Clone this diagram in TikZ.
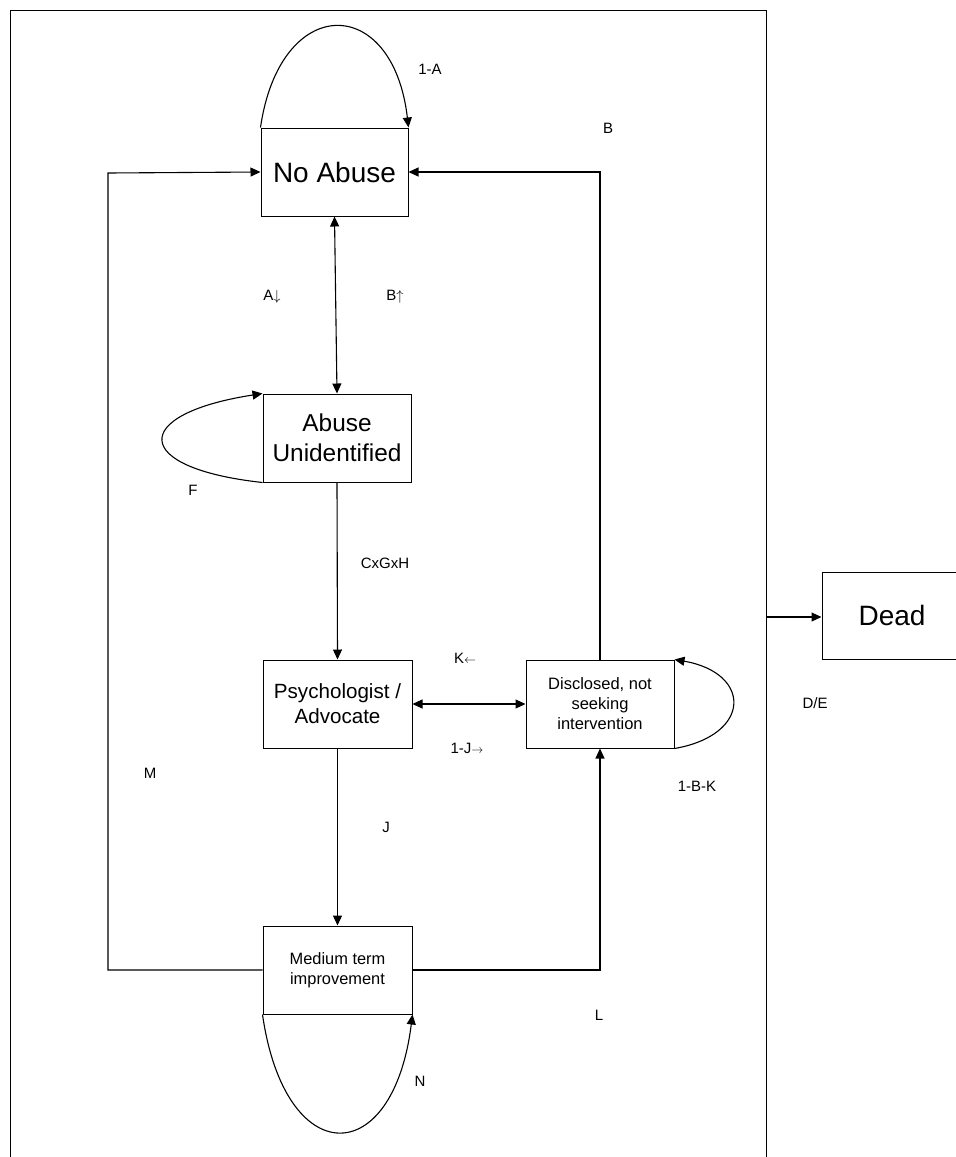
\documentclass[tikz,border=0pt]{standalone}
\usepackage{fontspec}
\setmainfont{Liberation Sans}
\usetikzlibrary{arrows.meta}
\tikzset{
  state/.style={draw, line width=1pt, inner sep=0pt, align=center},
  conn/.style={line width=1.1pt},
  arr/.style={conn, -{Triangle[length=10pt,width=9pt]}},
  darr/.style={conn, {Triangle[length=10pt,width=9pt]}-{Triangle[length=10pt,width=9pt]}},
  lbl/.style={font=\fontsize{15}{18}\selectfont, inner sep=0pt}
}
\begin{document}
\begin{tikzpicture}[x=1pt,y=-1pt]
\useasboundingbox (0,0) rectangle (956,1157);
\clip (0,0) rectangle (956,1157);
\fill[white] (0,0) rectangle (956,1157);
% outer frame
\draw[line width=1pt] (10,1170) -- (10,10) -- (766,10) -- (766,1170);
\coordinate (deadsrc) at (766,617);

\node[state, minimum width=147pt, minimum height=88pt, font=\fontsize{28}{32}\selectfont] (noabuse) at (334.5,172) {No Abuse};
\node[state, minimum width=148pt, minimum height=88pt, font=\fontsize{24.4}{30}\selectfont] (abuse) at (337,438) {Abuse\\Unidentified};
\node[state, minimum width=149pt, minimum height=88pt, font=\fontsize{20.6}{25}\selectfont] (psych) at (337.5,704) {Psychologist /\\Advocate};
\node[state, minimum width=148pt, minimum height=88pt, font=\fontsize{16.5}{20}\selectfont] (disc) at (600,704) {Disclosed, not\\seeking\\intervention};
\node[state, minimum width=149pt, minimum height=88pt, font=\fontsize{16.4}{20}\selectfont] (medium) at (337.5,970) {Medium term\\improvement};
\node[state, minimum width=140pt, minimum height=87pt, font=\fontsize{28}{32}\selectfont] (dead) at (892,615.5) {Dead};

\coordinate (lc) at (108,173);

% connectors
\draw[darr] (noabuse.south) -- (abuse.north);
\draw[arr] (abuse.south) -- (psych.north);
\draw[darr] (psych.east) -- (disc.west);
\draw[arr] (psych.south) -- (medium.north);
\draw[arr] (medium.west) -| (lc) -- (noabuse.west);
\draw[arr] (medium.east) -| (disc.south);
\draw[arr] (disc.north) |- (noabuse.east);
\draw[arr] (deadsrc) -- (deadsrc -| dead.west);

% self loops
\draw[arr] (noabuse.north west) .. controls (280,-7) and (393,-7) .. (noabuse.north east);
\draw[arr] (abuse.south west) .. controls (130,468) and (130,414) .. (abuse.north west);
\draw[arr] (disc.south east) .. controls (752,735) and (752,673) .. (disc.north east);
\draw[arr] (medium.south west) .. controls (285,1171) and (393,1171) .. (medium.south east);

% labels
\node[lbl] (l1a) at (430,69) {1-A};
\node[lbl] (lb) at (608,128) {B};
\node[lbl] (la) at (272,297) {A$\downarrow$};
\node[lbl] (lbu) at (395,297) {B$\uparrow$};
\node[lbl] (lf) at (193,490) {F};
\node[lbl] (lc2) at (385,563) {CxGxH};
\node[lbl] (lk) at (465,658) {K{\fontsize{13}{15}\selectfont$\leftarrow$}};
\node[lbl] (l1j) at (467,748) {1-J{\fontsize{13}{15}\selectfont$\rightarrow$}};
\node[lbl] (lde) at (815,703) {D/E};
\node[lbl] (l1bk) at (697,786) {1-B-K};
\node[lbl] (lm) at (150,773) {M};
\node[lbl] (lj) at (386,827) {J};
\node[lbl] (ll) at (599,1015) {L};
\node[lbl] (ln) at (420,1081) {N};
\end{tikzpicture}
\end{document}
